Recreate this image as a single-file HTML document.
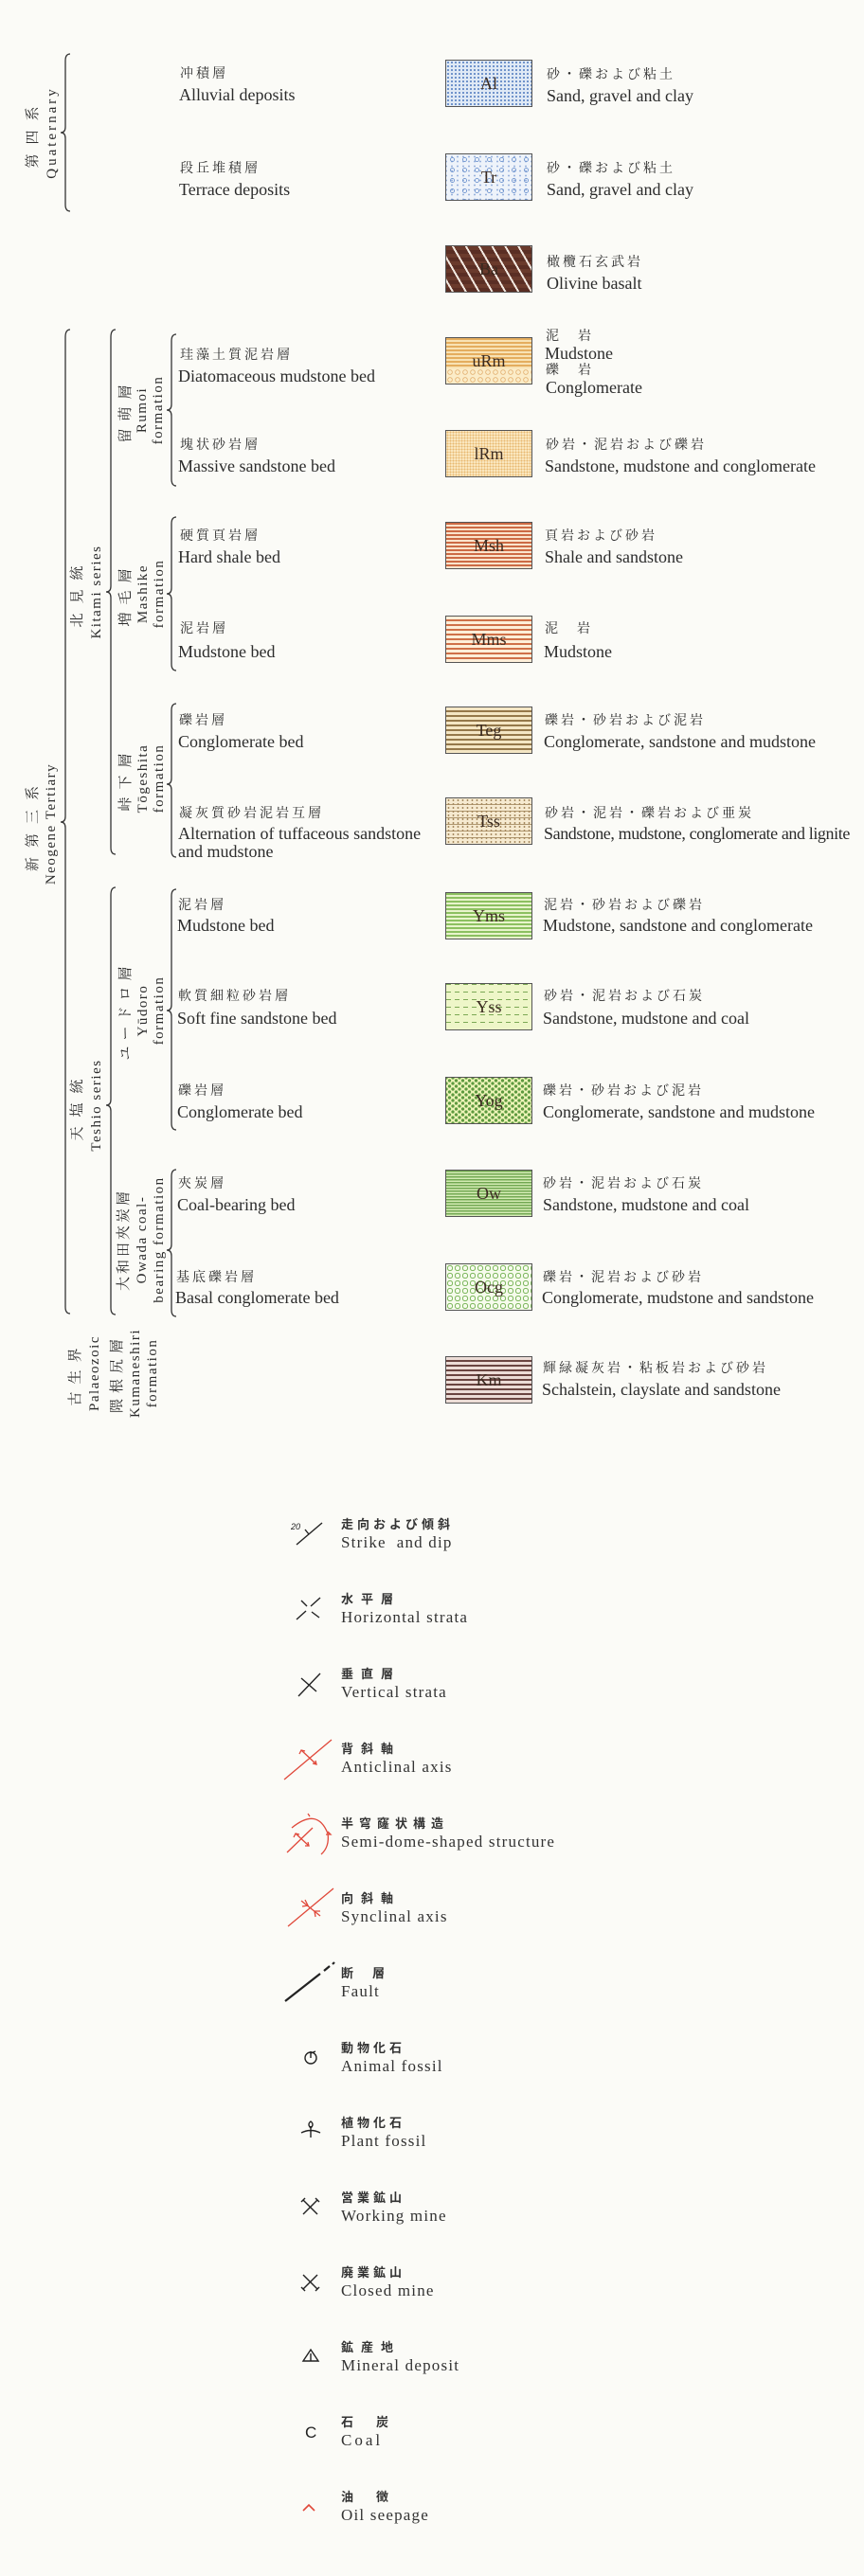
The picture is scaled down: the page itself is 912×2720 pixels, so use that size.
<!DOCTYPE html>
<html><head><meta charset="utf-8"><style>
body{margin:0;background:#fbfbf7;}
#p{position:relative;width:912px;height:2720px;overflow:hidden;background:#fbfbf7;color:#2c2c2c;font-family:"Liberation Serif","Noto Serif CJK SC","Noto Sans CJK JP",serif;}
.t{position:absolute;white-space:nowrap;line-height:20px;font-size:18px;}
.j{position:absolute;white-space:nowrap;line-height:20px;font-size:14px;letter-spacing:3px;font-family:"Liberation Serif","Noto Serif CJK SC",serif;}
.b{position:absolute;left:470px;width:90px;height:48px;border:1px solid #555;text-align:center;line-height:48px;font-size:18px;color:#3a2a20;}
.v{position:absolute;white-space:nowrap;transform:translate(-50%,-50%) rotate(-90deg);font-size:15px;letter-spacing:1.5px;line-height:18px;}
.lj{position:absolute;left:360px;font-size:13px;letter-spacing:8px;font-weight:bold;line-height:18px;font-family:"Noto Sans CJK JP",sans-serif;color:#333;}
.le{position:absolute;left:360px;font-size:17px;letter-spacing:1.2px;line-height:20px;color:#333;}
</style></head><body><div id="p">
<svg width="912" height="2720" style="position:absolute;left:0;top:0" xmlns="http://www.w3.org/2000/svg">
<g fill="none" stroke="#333" stroke-width="1.3">
<path d="M74,57 Q69,57 69,64 L69,134 Q69,140 64,140 Q69,140 69,146 L69,216 Q69,223 74,223"/>
<path d="M74,348 Q69,348 69,356 L69,862 Q69,868 64,868 Q69,868 69,874 L69,1380 Q69,1387 74,1387"/>
<path d="M122,348 Q117,348 117,356 L117,619 Q117,625 112,625 Q117,625 117,631 L117,895 Q117,902 122,902"/>
<path d="M186,353 Q181,353 181,360 L181,427 Q181,433 176,433 Q181,433 181,439 L181,506 Q181,513 186,513"/>
<path d="M186,546 Q181,546 181,553 L181,621 Q181,627 176,627 Q181,627 181,633 L181,701 Q181,708 186,708"/>
<path d="M186,743 Q181,743 181,750 L181,822 Q181,828 176,828 Q181,828 181,834 L181,898 Q181,905 186,905"/>
<path d="M122,937 Q117,937 117,945 L117,1161 Q117,1167 112,1167 Q117,1167 117,1173 L117,1381 Q117,1388 122,1388"/>
<path d="M186,939 Q181,939 181,946 L181,1061 Q181,1067 176,1067 Q181,1067 181,1073 L181,1186 Q181,1193 186,1193"/>
<path d="M186,1235 Q181,1235 181,1242 L181,1314 Q181,1320 176,1320 Q181,1320 181,1326 L181,1383 Q181,1390 186,1390"/>
</g>
<!-- legend symbols -->
<g stroke="#222" stroke-width="1.4" fill="none">
<g transform="translate(0,19)"><line x1="313" y1="1612" x2="340" y2="1589"/><line x1="326" y1="1601" x2="322" y2="1596"/></g>
<g transform="translate(0,32)"><line x1="313" y1="1678" x2="323" y2="1669"/><line x1="328" y1="1664" x2="338" y2="1655"/>
<line x1="318" y1="1658" x2="324" y2="1664"/><line x1="329" y1="1670" x2="337" y2="1676"/></g>
<g transform="translate(0,44)"><line x1="315" y1="1747" x2="338" y2="1723"/><line x1="318" y1="1728" x2="334" y2="1742"/></g>
<g transform="translate(0,93)"><line x1="301" y1="2020" x2="338" y2="1991" stroke-width="2.2"/><line x1="342" y1="1988" x2="348" y2="1983" stroke-width="2.2"/><line x1="351" y1="1981" x2="353" y2="1979" stroke-width="2.2"/></g>
<g transform="translate(0,12)"><circle cx="328" cy="2161" r="6"/><line x1="328" y1="2161" x2="328" y2="2154"/><line x1="328" y1="2156" x2="333" y2="2154"/></g>
<g transform="translate(0,25)"><path d="M318,2227 Q328,2222 338,2227 M328,2220 L328,2232 M328,2222 Q324,2218 328,2215 Q332,2218 328,2222"/></g>
<g transform="translate(0,36)"><line x1="320" y1="2287" x2="335" y2="2302"/><line x1="335" y1="2287" x2="320" y2="2302"/><line x1="318" y1="2289" x2="322" y2="2285"/><line x1="337" y1="2289" x2="333" y2="2285"/></g>
<g transform="translate(0,48)"><line x1="320" y1="2354" x2="335" y2="2369"/><line x1="335" y1="2354" x2="320" y2="2369"/><line x1="318" y1="2367" x2="322" y2="2371"/><line x1="337" y1="2367" x2="333" y2="2371"/></g>
<g transform="translate(0,61)"><path d="M320,2432 L328,2420 L336,2432 Z M328,2424 L328,2432"/></g>
</g>
<text x="307" y="1615" font-size="9" font-style="italic" fill="#222" font-family="Liberation Sans,sans-serif">20</text>
<text x="322" y="2574" font-size="17" fill="#222" font-family="Liberation Sans,sans-serif">C</text>
<g stroke="#e0483a" stroke-width="1.3" fill="none">
<g transform="translate(0,56)"><line x1="300" y1="1823" x2="350" y2="1781"/><line x1="318" y1="1792" x2="334" y2="1807"/>
<path d="M316,1796 L318,1792 L322,1793 M330,1806 L334,1807 L333,1803"/></g>
<g transform="translate(0,68)"><line x1="303" y1="1888" x2="330" y2="1862"/><line x1="312" y1="1868" x2="326" y2="1881"/>
<path d="M310,1872 L312,1868 L316,1869 M322,1881 L326,1881 L325,1877"/>
<path d="M308,1862 Q335,1840 346,1868 Q348,1882 339,1890"/><path d="M325,1847 L327,1850 M344,1869 L349,1869 L346,1866"/></g>
<g transform="translate(0,81)"><line x1="304" y1="1953" x2="352" y2="1913"/><line x1="318" y1="1926" x2="338" y2="1942"/>
<path d="M322,1925 L325,1931 L319,1932 M333,1943 L332,1937 L338,1937"/></g>
<path d="M320,2651 L326,2645 L332,2651" stroke-width="1.6"/>
</g>
</svg>

<!-- vertical labels -->
<div class="v j" style="left:35px;top:140px;font-size:15px;letter-spacing:10px">第四系</div>
<div class="v" style="left:55px;top:140px;letter-spacing:3px">Quaternary</div>
<div class="v j" style="left:35px;top:870px;font-size:15px;letter-spacing:10px">新第三系</div>
<div class="v" style="left:54px;top:870px">Neogene&nbsp;Tertiary</div>
<div class="v j" style="left:82px;top:625px;font-size:15px;letter-spacing:10px">北見統</div>
<div class="v" style="left:102px;top:625px">Kitami series</div>
<div class="v j" style="left:133px;top:433px;font-size:15px;letter-spacing:8px">留萌層</div>
<div class="v" style="left:150px;top:433px">Rumoi</div>
<div class="v" style="left:167px;top:433px">formation</div>
<div class="v j" style="left:133px;top:627px;font-size:15px;letter-spacing:8px">増毛層</div>
<div class="v" style="left:151px;top:627px">Mashike</div>
<div class="v" style="left:168px;top:627px">formation</div>
<div class="v j" style="left:133px;top:822px;font-size:15px;letter-spacing:8px">峠下層</div>
<div class="v" style="left:151px;top:822px">Tōgeshita</div>
<div class="v" style="left:168px;top:822px">formation</div>
<div class="v j" style="left:82px;top:1167px;font-size:15px;letter-spacing:10px">天塩統</div>
<div class="v" style="left:102px;top:1167px">Teshio series</div>
<div class="v j" style="left:133px;top:1067px;font-size:15px;letter-spacing:6px">ユードロ層</div>
<div class="v" style="left:151px;top:1067px">Yūdoro</div>
<div class="v" style="left:168px;top:1067px">formation</div>
<div class="v j" style="left:131px;top:1309px;font-size:15px;letter-spacing:3px">大和田夾炭層</div>
<div class="v" style="left:150px;top:1309px">Owada coal-</div>
<div class="v" style="left:168px;top:1309px">bearing formation</div>
<div class="v j" style="left:80px;top:1450px;font-size:15px;letter-spacing:8px">古生界</div>
<div class="v" style="left:100px;top:1450px">Palaeozoic</div>
<div class="v j" style="left:124px;top:1450px;font-size:15px;letter-spacing:6px">隈根尻層</div>
<div class="v" style="left:143px;top:1450px">Kumaneshiri</div>
<div class="v" style="left:161px;top:1450px">formation</div>

<!-- left descriptions -->
<div class="j" style="left:190px;top:69px">冲積層</div><div class="t" style="left:189px;top:90px">Alluvial deposits</div>
<div class="j" style="left:190px;top:169px">段丘堆積層</div><div class="t" style="left:189px;top:190px">Terrace deposits</div>
<div class="j" style="left:190px;top:366px">珪藻土質泥岩層</div><div class="t" style="left:188px;top:387px">Diatomaceous mudstone bed</div>
<div class="j" style="left:190px;top:461px">塊状砂岩層</div><div class="t" style="left:188px;top:482px">Massive sandstone bed</div>
<div class="j" style="left:190px;top:557px">硬質頁岩層</div><div class="t" style="left:188px;top:578px">Hard shale bed</div>
<div class="j" style="left:190px;top:655px">泥岩層</div><div class="t" style="left:188px;top:678px">Mudstone bed</div>
<div class="j" style="left:189px;top:752px">礫岩層</div><div class="t" style="left:188px;top:773px">Conglomerate bed</div>
<div class="j" style="left:189px;top:850px">凝灰質砂岩泥岩互層</div><div class="t" style="left:188px;top:870px">Alternation of tuffaceous sandstone</div><div class="t" style="left:188px;top:889px">and mudstone</div>
<div class="j" style="left:188px;top:947px">泥岩層</div><div class="t" style="left:187px;top:967px">Mudstone bed</div>
<div class="j" style="left:188px;top:1043px">軟質細粒砂岩層</div><div class="t" style="left:187px;top:1065px">Soft fine sandstone bed</div>
<div class="j" style="left:188px;top:1143px">礫岩層</div><div class="t" style="left:187px;top:1164px">Conglomerate bed</div>
<div class="j" style="left:188px;top:1241px">夾炭層</div><div class="t" style="left:187px;top:1262px">Coal-bearing bed</div>
<div class="j" style="left:186px;top:1340px">基底礫岩層</div><div class="t" style="left:185px;top:1360px">Basal conglomerate bed</div>

<!-- boxes -->
<div class="b" style="top:63px;background:#dfe9f5 radial-gradient(circle,#5f86c4 0.9px,transparent 1.2px) 0 0/4px 4px">Al</div>
<div class="b" style="top:162px;background:radial-gradient(circle,transparent 1.6px,#6f95cf 1.8px,#6f95cf 2.3px,transparent 2.6px) 0 0/13px 11px,radial-gradient(circle,#9ab3dd 0.8px,transparent 1.1px) 3px 5px/6px 5px,#eef3fa">Tr</div>
<div class="b" style="top:259px;background:repeating-linear-gradient(60deg,transparent 0 5px,#f2e8e0 5px 7px,transparent 7px 12px),repeating-linear-gradient(0deg,#5a2e24 0 4px,#6a3a2c 4px 8px)">Ba</div>
<div class="b" style="top:356px;background:repeating-linear-gradient(0deg,#f8e2b4 0 2px,#e4ad5e 2px 4px) top/100% 32px no-repeat,radial-gradient(circle,transparent 1.8px,#e2b070 2px,#e2b070 2.6px,transparent 2.9px) 0 32px/8px 8px,#fbecc8">uRm</div>
<div class="b" style="top:454px;background:radial-gradient(circle,#e8b870 0.8px,transparent 1.1px) 0 0/3px 3px,#fae7c0">lRm</div>
<div class="b" style="top:551px;background:repeating-linear-gradient(0deg,#fbe4cc 0 2px,#cc6a44 2px 4px)">Msh</div>
<div class="b" style="top:650px;background:repeating-linear-gradient(0deg,#fdeed8 0 3px,#cf7048 3px 5px)">Mms</div>
<div class="b" style="top:746px;background:repeating-linear-gradient(0deg,#f4e6c4 0 3px,#95784a 3px 5px)">Teg</div>
<div class="b" style="top:842px;background:radial-gradient(circle,#a68a60 0.8px,transparent 1px) 0 0/5px 4px,repeating-linear-gradient(0deg,#f6ead0 0 6px,#b09870 6px 7px)">Tss</div>
<div class="b" style="top:942px;background:repeating-linear-gradient(0deg,#e8f4cc 0 2px,#8cc060 2px 4px)">Yms</div>
<div class="b" style="top:1038px;background:repeating-linear-gradient(90deg,#7ba854 0 5px,#eef6c8 5px 9px);"><div style="position:absolute;inset:0;background:repeating-linear-gradient(0deg,#eef6c8 0 7px,transparent 7px 8px)"></div><span style="position:relative">Yss</span></div>
<div class="b" style="top:1137px;background:radial-gradient(circle,#5e9a40 1.5px,transparent 1.9px) 0 0/7px 6px,radial-gradient(circle,#5e9a40 1.5px,transparent 1.9px) 3.5px 3px/7px 6px,#eef4b8">Yog</div>
<div class="b" style="top:1235px;background:repeating-linear-gradient(0deg,#d4ebb4 0 1.5px,#72a852 1.5px 3px)">Ow</div>
<div class="b" style="top:1334px;background:radial-gradient(circle,transparent 2px,#7fb860 2.3px,#7fb860 3px,transparent 3.3px) 0 0/8px 8px,#f6fbec">Ocg</div>
<div class="b" style="top:1432px;background:repeating-linear-gradient(0deg,#ecdcd6 0 3px,#6a4440 3px 5px)">Km</div>

<!-- right descriptions -->
<div class="j" style="left:577px;top:70px">砂・礫および粘土</div><div class="t" style="left:577px;top:91px">Sand, gravel and clay</div>
<div class="j" style="left:577px;top:169px">砂・礫および粘土</div><div class="t" style="left:577px;top:190px">Sand, gravel and clay</div>
<div class="j" style="left:577px;top:268px">橄欖石玄武岩</div><div class="t" style="left:577px;top:289px">Olivine basalt</div>
<div class="j" style="left:576px;top:346px">泥　岩</div><div class="t" style="left:575px;top:363px">Mudstone</div><div class="j" style="left:576px;top:382px">礫　岩</div><div class="t" style="left:576px;top:399px">Conglomerate</div>
<div class="j" style="left:576px;top:461px">砂岩・泥岩および礫岩</div><div class="t" style="left:575px;top:482px">Sandstone, mudstone and conglomerate</div>
<div class="j" style="left:575px;top:557px">頁岩および砂岩</div><div class="t" style="left:575px;top:578px">Shale and sandstone</div>
<div class="j" style="left:575px;top:655px">泥　岩</div><div class="t" style="left:574px;top:678px">Mudstone</div>
<div class="j" style="left:575px;top:752px">礫岩・砂岩および泥岩</div><div class="t" style="left:574px;top:773px">Conglomerate, sandstone and mudstone</div>
<div class="j" style="left:575px;top:850px">砂岩・泥岩・礫岩および亜炭</div><div class="t" style="left:574px;top:870px;letter-spacing:-0.4px">Sandstone, mudstone, conglomerate and lignite</div>
<div class="j" style="left:574px;top:947px">泥岩・砂岩および礫岩</div><div class="t" style="left:573px;top:967px">Mudstone, sandstone and conglomerate</div>
<div class="j" style="left:574px;top:1043px">砂岩・泥岩および石炭</div><div class="t" style="left:573px;top:1065px">Sandstone, mudstone and coal</div>
<div class="j" style="left:573px;top:1143px">礫岩・砂岩および泥岩</div><div class="t" style="left:573px;top:1164px">Conglomerate, sandstone and mudstone</div>
<div class="j" style="left:573px;top:1241px">砂岩・泥岩および石炭</div><div class="t" style="left:573px;top:1262px">Sandstone, mudstone and coal</div>
<div class="j" style="left:573px;top:1340px">礫岩・泥岩および砂岩</div><div class="t" style="left:572px;top:1360px">Conglomerate, mudstone and sandstone</div>
<div class="j" style="left:573px;top:1436px">輝緑凝灰岩・粘板岩および砂岩</div><div class="t" style="left:572px;top:1457px">Schalstein, clayslate and sandstone</div>

<!-- legend -->
<div class="lj" style="top:1600px;letter-spacing:4px">走向および傾斜</div><div class="le" style="top:1619px">Strike&nbsp; and dip</div>
<div class="lj" style="top:1679px">水平層</div><div class="le" style="top:1698px">Horizontal strata</div>
<div class="lj" style="top:1758px">垂直層</div><div class="le" style="top:1777px">Vertical strata</div>
<div class="lj" style="top:1837px">背斜軸</div><div class="le" style="top:1856px">Anticlinal axis</div>
<div class="lj" style="top:1916px;letter-spacing:6px">半穹窿状構造</div><div class="le" style="top:1935px">Semi-dome-shaped structure</div>
<div class="lj" style="top:1995px">向斜軸</div><div class="le" style="top:2014px">Synclinal axis</div>
<div class="lj" style="top:2074px;letter-spacing:20px">断層</div><div class="le" style="top:2093px">Fault</div>
<div class="lj" style="top:2153px;letter-spacing:4px">動物化石</div><div class="le" style="top:2172px">Animal fossil</div>
<div class="lj" style="top:2232px;letter-spacing:4px">植物化石</div><div class="le" style="top:2251px">Plant fossil</div>
<div class="lj" style="top:2311px;letter-spacing:4px">営業鉱山</div><div class="le" style="top:2330px">Working mine</div>
<div class="lj" style="top:2390px;letter-spacing:4px">廃業鉱山</div><div class="le" style="top:2409px">Closed mine</div>
<div class="lj" style="top:2469px">鉱産地</div><div class="le" style="top:2488px">Mineral deposit</div>
<div class="lj" style="top:2548px;letter-spacing:24px">石炭</div><div class="le" style="top:2567px;letter-spacing:3px">Coal</div>
<div class="lj" style="top:2627px;letter-spacing:24px">油徴</div><div class="le" style="top:2646px">Oil seepage</div>
</div></body></html>
